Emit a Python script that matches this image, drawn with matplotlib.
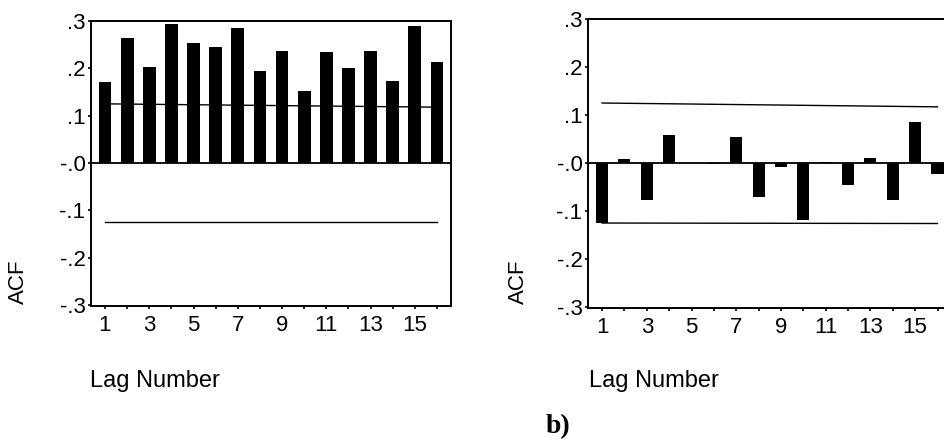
import matplotlib
matplotlib.use("Agg")
import matplotlib.pyplot as plt

plt.rcParams['font.family'] = ['Liberation Sans', 'DejaVu Sans']

lags = list(range(1, 17))

# panel a: ACF of the raw series
acf_left = [0.172, 0.265, 0.202, 0.294, 0.253, 0.245, 0.286, 0.194,
            0.236, 0.152, 0.234, 0.201, 0.236, 0.174, 0.289, 0.213]
# panel b: ACF of the residuals
acf_right = [-0.124, 0.009, -0.078, 0.058, -0.001, -0.003, 0.055, -0.071,
             -0.009, -0.119, 0.002, -0.046, 0.011, -0.078, 0.085, -0.022]

# confidence limits read at lag 1 and lag 16
band_lags = [1, 16]
upper_left = [0.125, 0.118]
lower_left = [-0.125, -0.125]
upper_right = [0.125, 0.117]
lower_right = [-0.125, -0.126]

ytick_vals = [0.3, 0.2, 0.1, 0.0, -0.1, -0.2, -0.3]
ytick_labels = [".3", ".2", ".1", "-.0", "-.1", "-.2", "-.3"]
xtick_labels = [str(l) if l % 2 == 1 else "" for l in lags]

W, H = 945, 440
fig = plt.figure(figsize=(W / 100, H / 100), dpi=100)


def make_panel(rect, acf, upper, lower, bar_w):
    ax = fig.add_axes(rect)
    ax.plot(band_lags, upper, color="black", lw=1.0, zorder=1)
    ax.plot(band_lags, lower, color="black", lw=1.0, zorder=1)
    ax.axhline(0, color="black", lw=1.3, zorder=1)
    ax.bar(lags, acf, width=bar_w, color="black", zorder=2)
    ax.set_xlim(0.37, 16.63)
    ax.set_ylim(-0.302, 0.3)
    ax.set_yticks(ytick_vals)
    ax.set_yticklabels(ytick_labels)
    ax.set_xticks(lags)
    ax.set_xticklabels(xtick_labels)
    ax.tick_params(axis="both", direction="out", length=2.5, width=1.2,
                   labelsize=16, pad=1.5)
    ax.tick_params(axis="x", pad=4)
    for s in ax.spines.values():
        s.set_linewidth(1.4)
    return ax


# pixel boxes -> figure fractions
make_panel([91 / W, 1 - 306 / H, 360 / W, 285 / H],
           acf_left, upper_left, lower_left, 0.58)
make_panel([588 / W, 1 - 308 / H, 363.6 / W, 289 / H],
           acf_right, upper_right, lower_right, 0.54)

for x0 in (18, 518):
    fig.text(x0 / W, 1 - 282 / H, "ACF", rotation=90, fontsize=16,
             ha="center", va="center")
for x0 in (90, 589):
    fig.text(x0 / W, 1 - 387 / H, "Lag Number", fontsize=17,
             ha="left", va="baseline")

fig.text(558 / W, 1 - 433 / H, "b)", fontsize=20, fontweight="bold",
         family=["Liberation Serif", "DejaVu Serif"], ha="center", va="baseline")

fig.savefig("out.png", dpi=100)
